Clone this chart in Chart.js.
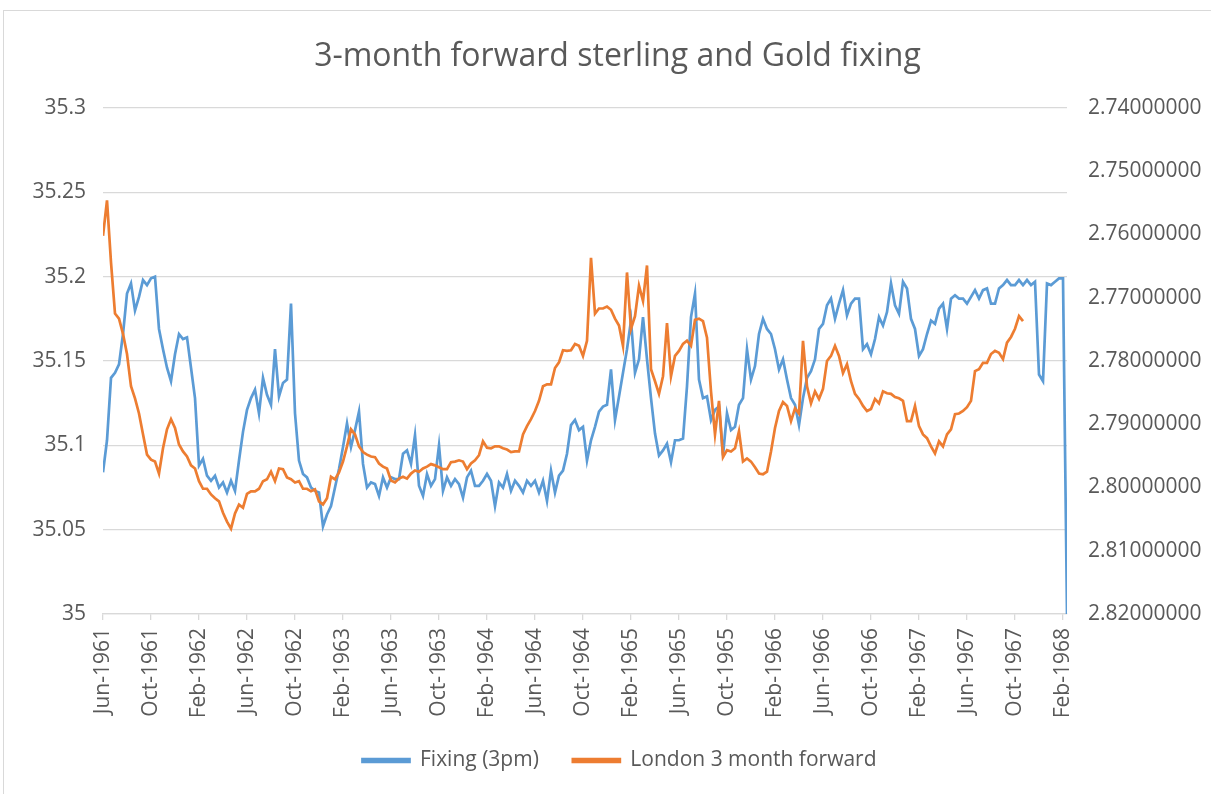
<!DOCTYPE html>
<html><head><meta charset="utf-8">
<script src="https://cdn.jsdelivr.net/npm/chart.js@4.4.1/dist/chart.umd.min.js"></script>
<style>html,body{margin:0;padding:0;background:#fff;} canvas{display:block;}</style>
</head><body>
<canvas id="c" width="1211" height="794"></canvas>
<script>
// X axis: tick labels every 4 months from Jun-1961
const tickLabels = ['Jun-1961','Oct-1961','Feb-1962','Jun-1962','Oct-1962','Feb-1963','Jun-1963','Oct-1963','Feb-1964','Jun-1964','Oct-1964','Feb-1965','Jun-1965','Oct-1965','Feb-1966','Jun-1966','Oct-1966','Feb-1967','Jun-1967','Oct-1967','Feb-1968'];
const tickMonths = [0,4,8,12,16,20,24,28,32,36,40,44,48,52,56,60,64,68,72,76,80];
const samplesPerMonth = 3; // one reading roughly every 10 days

const leftTicks = [35, 35.05, 35.1, 35.15, 35.2, 35.25, 35.3];
const rightTicks = [2.74, 2.75, 2.76, 2.77, 2.78, 2.79, 2.80, 2.81, 2.82];

// Gold fixing (3pm), USD/oz
const fixing = [
35.084,35.103,35.140,35.143,35.148,35.166,35.190,35.196,35.180,35.188,35.198,35.195,35.199,35.200,35.169,35.157,35.146,35.138,35.154,35.166,
35.163,35.164,35.146,35.128,35.088,35.092,35.082,35.079,35.082,35.075,35.078,35.072,35.079,35.073,35.091,35.108,35.121,35.128,35.133,35.119,
35.140,35.130,35.124,35.157,35.129,35.137,35.139,35.184,35.119,35.091,35.083,35.081,35.075,35.073,35.072,35.052,35.059,35.064,35.075,35.086,
35.099,35.113,35.099,35.109,35.120,35.089,35.075,35.078,35.077,35.070,35.081,35.075,35.081,35.080,35.080,35.095,35.097,35.089,35.106,35.076,
35.070,35.083,35.076,35.080,35.100,35.073,35.081,35.076,35.080,35.077,35.069,35.081,35.085,35.076,35.076,35.079,35.083,35.079,35.064,35.078,
35.075,35.083,35.073,35.079,35.076,35.072,35.079,35.076,35.079,35.072,35.079,35.067,35.085,35.072,35.082,35.085,35.095,35.112,35.115,35.109,
35.111,35.091,35.103,35.111,35.120,35.123,35.124,35.145,35.115,35.129,35.143,35.157,35.174,35.143,35.151,35.176,35.151,35.128,35.107,35.094,
35.097,35.101,35.090,35.103,35.103,35.104,35.135,35.176,35.190,35.139,35.128,35.129,35.115,35.121,35.123,35.094,35.119,35.109,35.111,35.124,
35.128,35.157,35.139,35.147,35.166,35.175,35.169,35.166,35.157,35.145,35.151,35.139,35.128,35.124,35.112,35.128,35.140,35.144,35.151,35.169,
35.172,35.183,35.187,35.175,35.184,35.192,35.177,35.184,35.187,35.187,35.157,35.160,35.154,35.163,35.176,35.171,35.179,35.196,35.183,35.178,
35.197,35.193,35.175,35.169,35.153,35.157,35.166,35.174,35.172,35.181,35.184,35.169,35.187,35.189,35.187,35.187,35.184,35.188,35.192,35.187,
35.192,35.193,35.184,35.184,35.193,35.195,35.198,35.195,35.195,35.198,35.195,35.198,35.195,35.197,35.142,35.138,35.196,35.195,35.197,35.199,
35.199,35.000
];

// London 3 month forward sterling, USD per GBP (right axis, reversed)
const forward3m = [
2.7602,2.7546,2.7644,2.7725,2.7733,2.7757,2.7789,2.7840,2.7859,2.7883,2.7916,2.7948,2.7956,2.7959,2.7978,2.7938,2.7908,2.7892,2.7906,2.7932,
2.7943,2.7951,2.7965,2.7970,2.7990,2.8002,2.8002,2.8011,2.8017,2.8022,2.8040,2.8054,2.8065,2.8041,2.8027,2.8032,2.8010,2.8006,2.8006,2.8002,
2.7990,2.7987,2.7975,2.7990,2.7970,2.7971,2.7984,2.7987,2.7992,2.7990,2.8002,2.8002,2.8006,2.8003,2.8022,2.8027,2.8017,2.7983,2.7987,2.7976,
2.7959,2.7935,2.7908,2.7916,2.7935,2.7944,2.7948,2.7951,2.7952,2.7962,2.7967,2.7970,2.7989,2.7992,2.7986,2.7983,2.7986,2.7978,2.7973,2.7975,
2.7970,2.7967,2.7963,2.7965,2.7968,2.7971,2.7971,2.7960,2.7959,2.7957,2.7959,2.7971,2.7962,2.7957,2.7949,2.7927,2.7937,2.7938,2.7935,2.7935,
2.7938,2.7940,2.7944,2.7943,2.7943,2.7916,2.7903,2.7892,2.7879,2.7863,2.7840,2.7837,2.7837,2.7811,2.7802,2.7783,2.7784,2.7783,2.7773,2.7776,
2.7792,2.7768,2.7637,2.7725,2.7717,2.7717,2.7714,2.7719,2.7733,2.7744,2.7776,2.7660,2.7749,2.7729,2.7681,2.7705,2.7649,2.7813,2.7832,2.7852,
2.7824,2.7740,2.7824,2.7792,2.7784,2.7773,2.7768,2.7776,2.7735,2.7733,2.7737,2.7763,2.7848,2.7916,2.7863,2.7952,2.7941,2.7943,2.7938,2.7911,
2.7959,2.7954,2.7959,2.7968,2.7978,2.7979,2.7975,2.7943,2.7906,2.7879,2.7865,2.7871,2.7895,2.7875,2.7883,2.7768,2.7840,2.7867,2.7848,2.7860,
2.7844,2.7800,2.7792,2.7776,2.7792,2.7819,2.7805,2.7832,2.7852,2.7860,2.7871,2.7879,2.7876,2.7860,2.7867,2.7848,2.7851,2.7852,2.7857,2.7859,
2.7863,2.7895,2.7895,2.7871,2.7903,2.7916,2.7922,2.7935,2.7946,2.7927,2.7935,2.7916,2.7908,2.7884,2.7883,2.7879,2.7873,2.7863,2.7816,2.7813,
2.7803,2.7803,2.7789,2.7784,2.7787,2.7797,2.7771,2.7762,2.7749,2.7729,2.7737,null,null,null,null,null,null,null,null,null,
null,null
];

const sampleMonths = fixing.map((_, i) => i / samplesPerMonth);
const FONT = "'Open Sans', sans-serif";
const TXT = '#595959';
const GRID = '#d9d9d9';

const framePlugin = {
  id: 'frame',
  beforeDraw(chart) {
    const c = chart.ctx;
    c.save();
    c.fillStyle = '#ffffff';
    c.fillRect(0, 0, chart.width, chart.height);
    c.strokeStyle = GRID;
    c.lineWidth = 1;
    c.strokeRect(3.5, 10.5, chart.width + 20, chart.height + 20);
    c.restore();
  },
  afterLayout(chart) {
    // nudge title and legend slightly right, as in the original
    if (chart.titleBlock) { chart.titleBlock.left += 12; chart.titleBlock.right += 12; }
    if (chart.legend) { chart.legend.left += 14; chart.legend.right += 14; }
  }
};

new Chart(document.getElementById('c'), {
  type: 'line',
  data: {
    datasets: [
      {
        label: 'Fixing (3pm)',
        data: fixing.map((v, i) => ({x: sampleMonths[i], y: v})),
        yAxisID: 'yL',
        borderColor: '#5B9BD5', backgroundColor: '#5B9BD5',
        borderWidth: 2.7, pointRadius: 0, tension: 0, order: 1
      },
      {
        label: 'London 3 month forward',
        data: forward3m.map((v, i) => ({x: sampleMonths[i], y: v})),
        yAxisID: 'yR',
        borderColor: '#ED7D31', backgroundColor: '#ED7D31',
        borderWidth: 2.7, pointRadius: 0, tension: 0, order: 0, spanGaps: false
      }
    ]
  },
  options: {
    responsive: false,
    animation: false,
    layout: {padding: {top: 0, bottom: 13, left: 0, right: 0}},
    plugins: {
      title: {
        display: true, text: '3-month forward sterling and Gold fixing', color: TXT,
        font: {family: FONT, size: 32, weight: 'normal', lineHeight: 1.2},
        padding: {top: 38, bottom: 31.6}
      },
      legend: {
        position: 'bottom',
        labels: {
          color: TXT, font: {family: FONT, size: 21}, boxWidth: 47, boxHeight: 3, padding: 34,
          sort: (a, b) => a.datasetIndex - b.datasetIndex
        }
      },
      tooltip: {enabled: false}
    },
    scales: {
      x: {
        type: 'linear', min: 0, max: (fixing.length - 1) / samplesPerMonth,
        afterBuildTicks: s => { s.ticks = tickMonths.map(v => ({value: v})); },
        ticks: {
          autoSkip: false, maxRotation: 90, minRotation: 90, padding: 8,
          color: TXT, font: {family: FONT, size: 21},
          callback: (v, i) => tickLabels[i]
        },
        grid: {drawOnChartArea: false, drawTicks: true, tickLength: 6, color: GRID, lineWidth: 1.3},
        border: {color: GRID, width: 1.3},
        afterFit: s => { s.height = 102; }
      },
      yL: {
        position: 'left', min: 35, max: 35.3,
        afterBuildTicks: s => { s.ticks = leftTicks.map(v => ({value: v})); },
        ticks: {color: TXT, font: {family: FONT, size: 21}, padding: 17,
          callback: v => String(+v.toFixed(2))},
        grid: {color: GRID, lineWidth: 1.3, drawTicks: false},
        border: {display: false},
        afterFit: s => { s.width = 103; }
      },
      yR: {
        position: 'right', reverse: true, min: 2.74, max: 2.82,
        afterBuildTicks: s => { s.ticks = rightTicks.map(v => ({value: v})); },
        ticks: {color: TXT, font: {family: FONT, size: 21}, padding: 21,
          callback: v => v.toFixed(8)},
        grid: {drawOnChartArea: false, drawTicks: false},
        border: {display: false},
        afterFit: s => { s.width = 144; }
      }
    }
  },
  plugins: [framePlugin]
});
</script>
</body></html>
